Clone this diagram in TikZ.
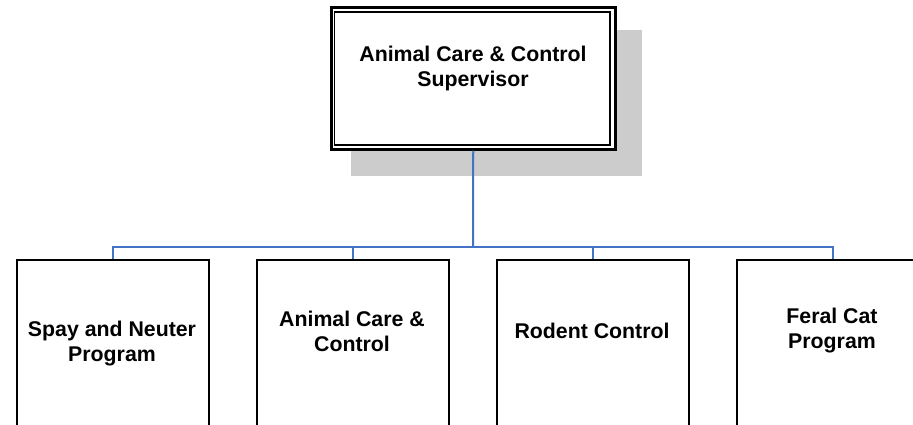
\documentclass[tikz,border=0pt]{standalone}
\usepackage{fontspec}
\setmainfont{Liberation Sans}
\begin{document}
\begin{tikzpicture}[x=1pt,y=-1pt,
  box/.style={draw=black,line width=2pt,fill=white,inner sep=0pt,anchor=north west,minimum width=192pt,minimum height=200pt},
  lbl/.style={font=\fontsize{21.3}{25}\selectfont\bfseries,align=center,inner sep=0pt},
  conn/.style={color={rgb,255:red,68;green,114;blue,196},line width=2pt},
  shadowc/.style={fill={rgb,255:red,204;green,204;blue,204},draw=none}]
\useasboundingbox (0,0) rectangle (913,424);
\clip (0,0) rectangle (913,424);
% shadow of top box
\fill[shadowc] (351,30) rectangle (642,176);
% top box
\node[draw=black,line width=3pt,fill=white,inner sep=0pt,minimum width=283.5pt,minimum height=141.7pt] (top) at (473.25,78.35) {};
\draw[line width=1.5pt] (334.7,11.8) rectangle (610.2,145);
\node[lbl] (toptxt) at (473,68) {Animal Care \& Control\\Supervisor};
% bottom boxes
\node[box] (b1) at (16,259) {};
\node[box] (b2) at (256,259) {};
\node[box] (b3) at (496,259) {};
\node[box] (b4) at (736,259) {};
\node[lbl] (t1) at (112,343.5) {Spay and Neuter\\Program};
\node[lbl] (t2) at (352,331) {Animal Care \&\\Control};
\node[lbl] (t3) at (592,331) {Rodent Control};
\node[lbl] (t4) at (832,331) {Feral Cat\\Program};
% connectors
\coordinate (bus) at (473,247);
\draw[conn] (top.south) -- (bus);
\draw[conn] (b1.north) -- (b1.north |- bus) -- (b4.north |- bus) -- (b4.north);
\draw[conn] (b2.north) -- (b2.north |- bus);
\draw[conn] (b3.north) -- (b3.north |- bus);
\end{tikzpicture}
\end{document}
